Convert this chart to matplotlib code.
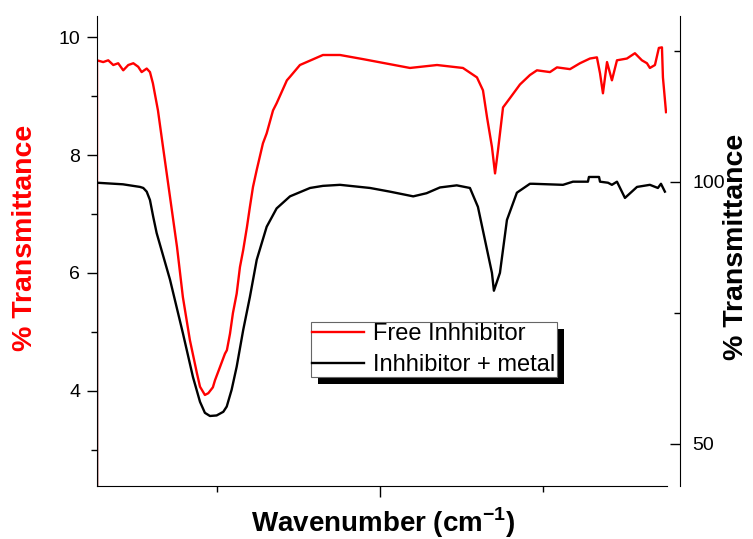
import matplotlib
matplotlib.use('Agg')
import matplotlib.pyplot as plt
from matplotlib.ticker import MultipleLocator, NullFormatter
from matplotlib.patches import Rectangle
from matplotlib.transforms import IdentityTransform

plt.rcParams['font.family'] = ['Liberation Sans', 'DejaVu Sans']
plt.rcParams['mathtext.fontset'] = 'custom'
plt.rcParams['mathtext.rm'] = 'Liberation Sans'
plt.rcParams['mathtext.bf'] = 'Liberation Sans:bold'

# free inhibitor (left axis, red)
red_wn = [3736, 3736, 3698, 3667, 3636, 3606, 3575, 3544, 3513, 3483, 3462, 3431, 3411,
          3393, 3362, 3331, 3288, 3245, 3209, 3166, 3123, 3104, 3074, 3053, 3025,
          3012, 2982, 2951, 2939, 2920, 2902, 2879, 2859, 2839, 2816,
          2798, 2779, 2756, 2718, 2695, 2656, 2634, 2571, 2552, 2491,
          2350, 2245, 2104, 1816, 1650, 1491, 1405, 1368, 1343, 1313,
          1294, 1276, 1245, 1202, 1141, 1080, 1037, 957, 914, 834,
          773, 712, 669, 650, 632, 607, 577, 546, 485, 436,
          393, 362, 344, 313, 289, 270, 264, 245]
red_t = [2.3, 9.61, 9.58, 9.61, 9.53, 9.56, 9.44, 9.53, 9.56, 9.50, 9.41, 9.47, 9.41,
         9.22, 8.76, 8.14, 7.29, 6.44, 5.59, 4.86, 4.30, 4.07, 3.93, 3.96, 4.06,
         4.18, 4.40, 4.63, 4.69, 4.97, 5.32, 5.65, 6.10, 6.39, 6.78,
         7.12, 7.46, 7.75, 8.20, 8.37, 8.76, 8.88, 9.27, 9.33, 9.53,
         9.70, 9.70, 9.63, 9.48, 9.53, 9.48, 9.32, 9.10, 8.64, 8.14,
         7.69, 8.08, 8.81, 8.97, 9.20, 9.36, 9.44, 9.41, 9.49, 9.46,
         9.56, 9.64, 9.66, 9.39, 9.05, 9.58, 9.27, 9.61, 9.64, 9.73,
         9.61, 9.56, 9.48, 9.53, 9.82, 9.83, 9.32, 8.73]

# inhibitor + metal (right axis, black)
blk_wn = [3736, 3736, 3577, 3472, 3452, 3431, 3411, 3391, 3370, 3288,
          3209, 3147, 3125, 3104, 3074, 3043, 3002, 2961, 2940, 2910,
          2879, 2839, 2798, 2756, 2695, 2634, 2552, 2429, 2350, 2245,
          2184, 2061, 1939, 1796, 1714, 1632, 1529, 1448, 1399, 1356,
          1313, 1301, 1264, 1221, 1160, 1080, 1061, 877, 816, 724,
          718, 656, 650, 601, 577, 546, 497, 423, 344, 295,
          276, 252]
blk_t = [40, 99.8, 99.5, 99.0, 98.8, 98.1, 96.5, 93.3, 90.2, 81.3,
         71.1, 62.7, 60.3, 58.0, 55.9, 55.3, 55.4, 56.1, 57.1, 60.3,
         64.7, 71.7, 78.0, 85.1, 91.4, 94.9, 97.2, 98.8, 99.2, 99.4,
         99.2, 98.8, 98.1, 97.2, 97.8, 98.9, 99.3, 98.8, 95.2, 88.9,
         82.6, 79.2, 82.6, 92.7, 97.9, 99.6, 99.6, 99.4, 100.0, 100.0,
         100.9, 100.9, 100.0, 99.8, 99.4, 100.0, 96.9, 99.0, 99.4, 98.8,
         99.6, 98.1]

fig = plt.figure(figsize=(7.53, 5.39), dpi=100)
ax = fig.add_axes([0.1288, 0.0989, 0.757, 0.8723])
ax2 = ax.twinx()

l1, = ax.plot(red_wn, red_t, color='#ff0000', lw=1.7, label='Free Inhhibitor')
l2, = ax2.plot(blk_wn, blk_t, color='black', lw=1.7, label='Inhhibitor + metal')

ax.set_xlim(3736, 239)
ax.set_ylim(2.39, 10.37)
ax2.set_ylim(42, 131.7)

ax.spines['top'].set_visible(False)
ax.spines['right'].set_visible(False)
for s in ['top', 'left', 'bottom']:
    ax2.spines[s].set_visible(False)
ax2.spines['right'].set_position(('outward', 9.4))

ax.xaxis.set_major_locator(MultipleLocator(2000))
ax.xaxis.set_minor_locator(MultipleLocator(1000))
ax.xaxis.set_major_formatter(NullFormatter())
ax.yaxis.set_major_locator(MultipleLocator(2))
ax.yaxis.set_minor_locator(MultipleLocator(1))
ax2.yaxis.set_major_locator(MultipleLocator(50))
ax2.yaxis.set_minor_locator(MultipleLocator(25))

ax.tick_params(axis='both', which='major', direction='out', length=7, width=1, labelsize=14, pad=5)
ax.tick_params(axis='both', which='minor', direction='out', length=4, width=1)
ax.tick_params(axis='x', which='major', length=8)
ax2.tick_params(axis='y', which='major', direction='in', length=7, width=1, labelsize=14, pad=9)
ax2.tick_params(axis='y', which='minor', direction='in', length=4, width=1)

fig.text(25 / 753, 1 - 238 / 539, '% Transmittance', rotation=90, color='#ff0000',
         fontsize=20.5, fontweight='bold', ha='center', va='center')
fig.text(736 / 753, 1 - 246.7 / 539, '% Transmittance', rotation=90, color='black',
         fontsize=20.5, fontweight='bold', ha='center', va='center')
fig.text(383 / 753, 1 - 532 / 539, r'Wavenumber (cm$^{\mathbf{-1}}$)',
         fontsize=20, fontweight='bold', ha='center', va='baseline')

leg = ax2.legend(handles=[l1, l2], loc='upper left', bbox_to_anchor=(310.7 / 753, 1 - 321.7 / 539),
                 bbox_transform=fig.transFigure, fontsize=17, frameon=True, fancybox=False,
                 borderpad=0.05, labelspacing=0.38, handlelength=2.2, handletextpad=0.4,
                 borderaxespad=0)
leg.get_frame().set_edgecolor('#666666')
leg.get_frame().set_linewidth(0.8)
leg.get_frame().set_alpha(1)

# solid black drop shadow behind the legend, like Origin draws it
fig.canvas.draw()
bb = leg.get_window_extent()
shadow = Rectangle((bb.x0 + 7, bb.y0 - 7), bb.width, bb.height, facecolor='black',
                   edgecolor='none', zorder=leg.get_zorder() - 0.1)
shadow.set_transform(IdentityTransform())
ax2.add_artist(shadow)

fig.savefig('out.png', dpi=100)
